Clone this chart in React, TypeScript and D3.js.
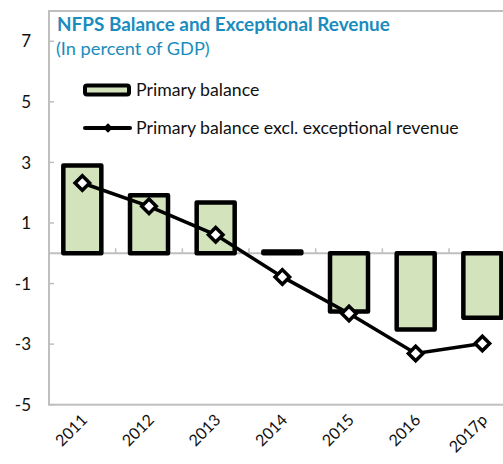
import React from "react";
import * as d3 from "d3";

const categories = ["2011", "2012", "2013", "2014", "2015", "2016", "2017p"];
const primaryBalance = [2.9, 1.92, 1.68, 0.06, -1.92, -2.52, -2.13];
const exclExceptional = [2.32, 1.55, 0.61, -0.78, -1.99, -3.31, -2.98];
const yTicks = [-5, -3, -1, 1, 3, 5, 7];

const W = 503;
const H = 464;
const left = 49;
const top = 11;
const bottom = 404.7;
const catW = 66.67;
const font = "Lato, 'Open Sans', sans-serif";
const titleColor = "#1a8cbd";
const barFill = "#d3e4bd";
const gridGray = "#bfbfbf";

export default function App() {
  const x = d3
    .scaleBand<string>()
    .domain(categories)
    .range([left, left + catW * categories.length])
    .padding(0);
  const y = d3.scaleLinear().domain([-5, 8]).range([bottom, top]);
  const barW = 38;
  const line = d3
    .line<number>()
    .x((_, i) => (x(categories[i]) as number) + x.bandwidth() / 2)
    .y((d) => y(d));
  const diamond = d3.symbol().type(d3.symbolDiamond2).size(135)();
  const smallDiamond = d3.symbol().type(d3.symbolDiamond2).size(60)();

  return (
    <svg
      width={W}
      height={H}
      style={{ position: "absolute", left: 0, top: 0, background: "#fff" }}
      fontFamily={font}
    >
      {/* frame */}
      <rect
        x={left}
        y={top}
        width={catW * categories.length}
        height={bottom - top}
        fill="none"
        stroke={gridGray}
        strokeWidth={2}
      />
      {/* y ticks */}
      {yTicks.map((t) => (
        <g key={t}>
          <line x1={left} x2={left + 5} y1={y(t)} y2={y(t)} stroke={gridGray} strokeWidth={1.5} />
          <text x={31} y={y(t)} dy="0.36em" textAnchor="end" fontSize={17} fill="#111">
            {t}
          </text>
        </g>
      ))}
      {/* zero axis */}
      <line
        x1={left}
        x2={left + catW * categories.length}
        y1={y(0)}
        y2={y(0)}
        stroke={gridGray}
        strokeWidth={2}
      />
      {categories.slice(1).map((c) => (
        <line
          key={c}
          x1={x(c) as number}
          x2={x(c) as number}
          y1={y(0)}
          y2={y(0) - 5}
          stroke={gridGray}
          strokeWidth={1.5}
        />
      ))}
      {/* bars */}
      {primaryBalance.map((v, i) => {
        const cx = (x(categories[i]) as number) + x.bandwidth() / 2;
        const y0 = y(Math.max(0, v));
        const y1 = y(Math.min(0, v));
        return (
          <rect
            key={i}
            x={cx - barW / 2}
            y={y0}
            width={barW}
            height={Math.max(0.5, y1 - y0)}
            fill={barFill}
            stroke="#000"
            strokeWidth={4.5}
            strokeLinejoin="round"
          />
        );
      })}
      {/* line */}
      <path d={line(exclExceptional) || ""} fill="none" stroke="#000" strokeWidth={3.5} />
      {exclExceptional.map((v, i) => (
        <path
          key={i}
          d={diamond || ""}
          transform={`translate(${(x(categories[i]) as number) + x.bandwidth() / 2},${y(v)})`}
          fill="#fff"
          stroke="#000"
          strokeWidth={3.5}
        />
      ))}
      {/* x labels */}
      {categories.map((c) => {
        const cx = (x(c) as number) + x.bandwidth() / 2;
        return (
          <text
            key={c}
            transform={`translate(${cx + 6},${421}) rotate(-45)`}
            textAnchor="end"
            fontSize={16}
            fill="#111"
          >
            {c}
          </text>
        );
      })}
      {/* title */}
      <text x={57} y={31} fontSize={18.9} fontWeight="bold" fill={titleColor}>
        NFPS Balance and Exceptional Revenue
      </text>
      <text x={56} y={55} fontSize={18.2} fill={titleColor}>
        (In percent of GDP)
      </text>
      {/* legend */}
      <rect x={85} y={85.5} width={44} height={9} rx={2} fill={barFill} stroke="#000" strokeWidth={4} />
      <text x={136} y={90} dy="0.36em" fontSize={17.7} fill="#111">
        Primary balance
      </text>
      <line x1={85} x2={130} y1={128} y2={128} stroke="#000" strokeWidth={4} strokeLinecap="round" />
      <path d={smallDiamond || ""} transform="translate(108,128)" fill="#000" />
      <text x={136} y={128} dy="0.36em" fontSize={17.7} fill="#111">
        Primary balance excl. exceptional revenue
      </text>
    </svg>
  );
}
